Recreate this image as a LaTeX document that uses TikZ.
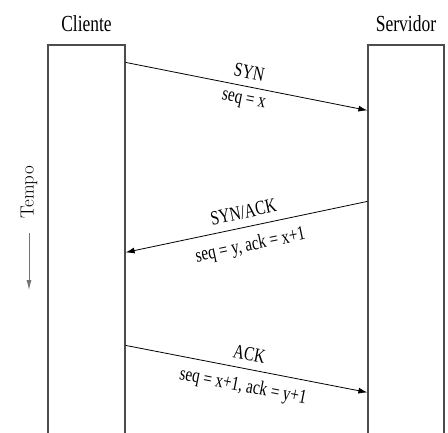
\documentclass[tikz,border=0pt]{standalone}
\usepackage{fontspec}
\usepackage{tikz}
\usetikzlibrary{arrows.meta, positioning, calc}
\newfontfamily\timesnarrow[FakeStretch=0.76]{Liberation Serif}

\begin{document}
\begin{tikzpicture}[
  x=1pt, y=-1pt,
  hostbox/.style={rectangle, draw=black!70, line width=1.2pt, fill=white, minimum width=#1, minimum height=400pt, inner sep=0pt},
  hosttitle/.style={font=\timesnarrow\fontsize{23}{26}\selectfont},
  msg/.style={-{Latex[length=9pt, width=6pt]}, line width=0.8pt},
  msglabel/.style={font=\timesnarrow\fontsize{20}{22}\selectfont, sloped, inner sep=2pt}
]
  \useasboundingbox (0,0) rectangle (448,432);
  \clip (0,0) rectangle (448,432);

  % Hosts
  \node[hostbox=77pt] at (86.5,245) (cli) {};
  \node[hostbox=76pt] at (406,245) (srv) {};
  \node[hosttitle, above=9pt of cli.north] (clititle) {Cliente};
  \node[hosttitle, above=9pt of srv.north] (srvtitle) {Servidor};

  % Time axis
  \node[rotate=90, font=\fontsize{19}{22}\selectfont] at (29,192.5) (tempo) {Tempo};
  \coordinate (tempoend) at (29,290);
  \draw[-{Latex[length=10pt, width=5pt]}, black!55, line width=0.8pt] ([yshift=-11pt]tempo.west) -- (tempoend);

  % Handshake
  \draw[msg] ([yshift=-18pt]cli.north east) -- ([yshift=-66pt]srv.north west)
    node[midway, above=5pt, msglabel] {SYN}
    node[midway, below=6pt, msglabel] {seq = x};
  \draw[msg] ([yshift=-157pt]srv.north west) -- ([yshift=-208pt]cli.north east)
    node[midway, above=6pt, msglabel] {SYN/ACK}
    node[midway, below=8pt, msglabel] {seq = y, ack = x+1};
  \draw[msg] ([yshift=-301pt]cli.north east) -- ([yshift=-348pt]srv.north west)
    node[midway, above=6pt, msglabel] {ACK}
    node[midway, below=7pt, msglabel] {seq = x+1, ack = y+1};
\end{tikzpicture}
\end{document}
